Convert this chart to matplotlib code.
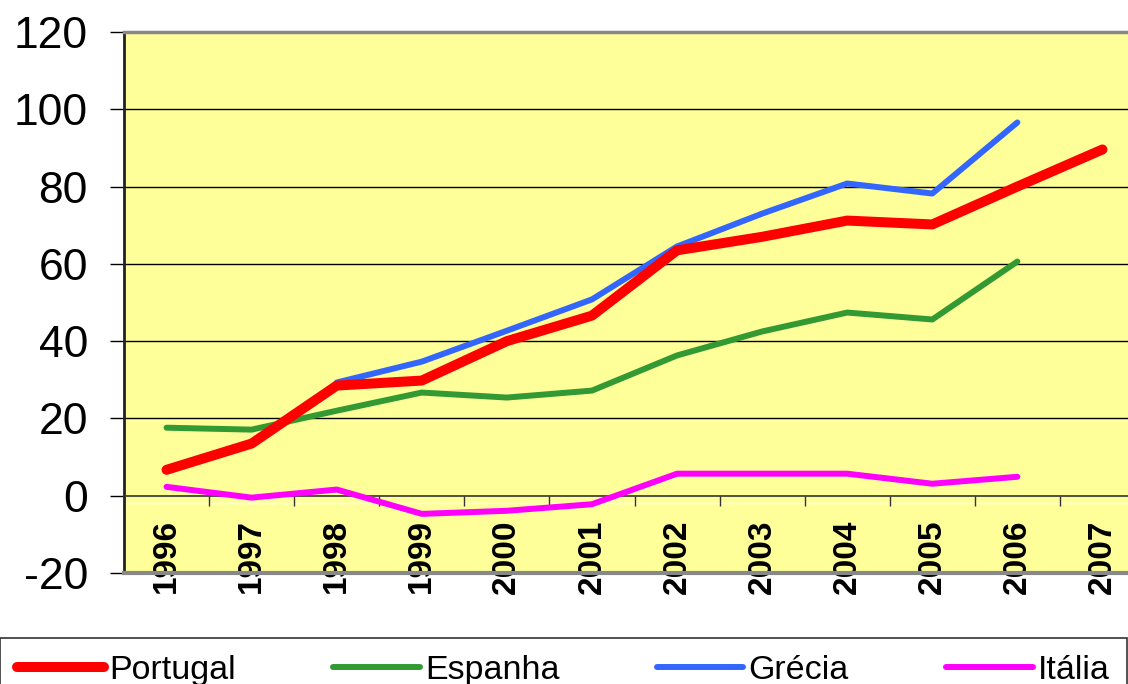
import matplotlib.pyplot as plt
from matplotlib.ticker import FixedLocator

plt.rcParams['font.family'] = ['Liberation Sans', 'DejaVu Sans']
plt.rcParams['axes.unicode_minus'] = False

years = ['1996', '1997', '1998', '1999', '2000', '2001', '2002',
         '2003', '2004', '2005', '2006', '2007']
portugal = [6.7, 13.5, 28.5, 29.8, 40.0, 46.6, 63.5, 67.0, 71.2, 70.2, 80.0, 89.6]
espanha = [17.6, 17.1, 22.0, 26.7, 25.4, 27.2, 36.3, 42.5, 47.4, 45.6, 60.6, None]
grecia = [None, None, 29.3, 34.7, 42.7, 50.8, 64.5, 73.0, 80.8, 78.2, 96.6, None]
italia = [2.3, -0.5, 1.6, -4.7, -3.9, -2.2, 5.7, 5.7, 5.7, 3.1, 4.9, None]


def clean(vals):
    return [float('nan') if v is None else v for v in vals]


fig = plt.figure(figsize=(11.28, 6.84), dpi=100)
ax = fig.add_axes([124 / 1128, 1 - 573 / 684, 1021 / 1128, 541 / 684])
ax.set_facecolor('#FFFF99')

x = list(range(len(years)))
ax.plot(x, clean(portugal), color='#FF0000', lw=7.2, solid_capstyle='round',
        solid_joinstyle='round', label='Portugal', zorder=5)
ax.plot(x, clean(espanha), color='#339933', lw=4.3, solid_capstyle='round',
        solid_joinstyle='round', label='Espanha', zorder=4)
ax.plot(x, clean(grecia), color='#3366FF', lw=4.3, solid_capstyle='round',
        solid_joinstyle='round', label='Grécia', zorder=4)
ax.plot(x, clean(italia), color='#FF00FF', lw=4.3, solid_capstyle='round',
        solid_joinstyle='round', label='Itália', zorder=4)

ax.set_xlim(-0.5, len(years) - 0.5)
ax.set_ylim(-20, 120)
ax.set_yticks(range(-20, 121, 20))
ax.tick_params(axis='y', labelsize=32, length=10, width=1, pad=16, color='black')

for v in range(20, 101, 20):
    ax.axhline(v, color='black', lw=1, zorder=1)
ax.axhline(-2, color='white', lw=1, zorder=1)

# category axis sits at zero, labels pushed below the plot
ax.spines['bottom'].set_position(('data', 0))
ax.spines['bottom'].set_color('#333333')
ax.spines['bottom'].set_linewidth(1.2)
ax.set_xticks(x)
ax.set_xticklabels(years, rotation=90, fontsize=24, fontweight='bold', va='top')
ax.tick_params(axis='x', which='major', length=0, pad=17)
ax.xaxis.set_minor_locator(FixedLocator([i + 0.5 for i in range(len(years) - 1)]))
ax.tick_params(axis='x', which='minor', length=7, width=1, direction='out', color='#333333')

ax.spines['left'].set_linewidth(2)
ax.spines['left'].set_color('#222222')
ax.spines['top'].set_color('#888888')
ax.spines['top'].set_linewidth(2.5)
ax.spines['right'].set_visible(False)
ax.axhline(-20, color='#888888', lw=3, zorder=6, clip_on=False)

leg = fig.legend(loc='upper left', bbox_to_anchor=(0.0, 1 - 638 / 684, 0.999, 0),
                 ncol=4, mode='expand', fontsize=24.5, frameon=True, fancybox=False,
                 handlelength=2.55, handletextpad=0.15, borderaxespad=0,
                 borderpad=0.5)
leg.get_frame().set_edgecolor('black')
leg.get_frame().set_linewidth(1.2)
for line in leg.get_lines():
    line.set_solid_capstyle('round')

fig.savefig('out.png', dpi=100)
